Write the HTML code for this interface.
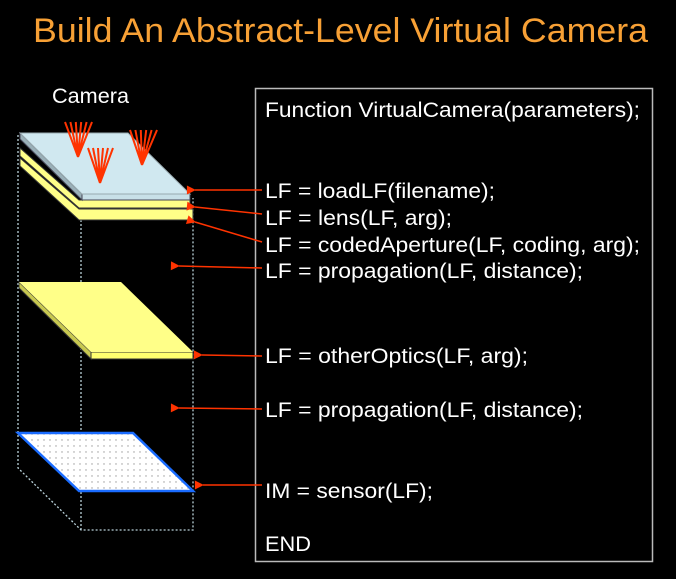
<!DOCTYPE html>
<html><head><meta charset="utf-8"><style>
html,body{margin:0;padding:0;background:#000;}
svg{display:block;}
text{font-family:"Liberation Sans",Arial,sans-serif;}
</style></head><body>
<svg width="676" height="579" viewBox="0 0 676 579" xmlns="http://www.w3.org/2000/svg">
<defs>
<pattern id="dots" width="6" height="6" patternUnits="userSpaceOnUse">
<rect width="6" height="6" fill="#fff"/><circle cx="2" cy="2" r="0.7" fill="#999"/>
</pattern>
<marker id="ah" viewBox="0 0 10 10" refX="1" refY="5" markerWidth="11" markerHeight="9" orient="auto-start-reverse" markerUnits="userSpaceOnUse">
<path d="M10,0 L0,5 L10,10 z" fill="#ff3300"/>
</marker>
</defs>
<rect width="676" height="579" fill="#000"/>
<text x="33" y="42" font-size="34" fill="#f7a035" textLength="615" lengthAdjust="spacingAndGlyphs">Build An Abstract-Level Virtual Camera</text>
<text x="52" y="103" font-size="21" fill="#fff" textLength="77" lengthAdjust="spacingAndGlyphs">Camera</text>

<g stroke="#b8d0d8" stroke-width="1.3" stroke-dasharray="2,2" fill="none">
<path d="M18,135 V468 L81,530 H193 V198"/>
<path d="M81,200 V530"/>
</g>

<polygon points="20,158 79,209 193,209 193,220 79,220 20,166" fill="#ffff88" stroke="#333" stroke-width="1"/>
<polygon points="20,148 79,200 190,200 190,208 79,208 20,156" fill="#ffff88" stroke="#333" stroke-width="1"/>
<polygon points="20,133 82,194 82,200 20,139" fill="#9ab0b8" stroke="#445" stroke-width="1"/>
<polygon points="82,194 190,194 190,200 82,200" fill="#c8e0e8" stroke="#445" stroke-width="1"/>
<polygon points="20,133 128,133 190,194 82,194" fill="#d0e8f0" stroke="#99aab0" stroke-width="1"/>

<g stroke="#ff3300" stroke-width="2">
<path d="M78,157 L65,122 M78,157 L70.4,122 M78,157 L75.8,122 M78,157 L81.2,122 M78,157 L86.6,122 M78,157 L92,122"/>
<path d="M100,183 L88,148 M100,183 L93,148 M100,183 L98,148 M100,183 L103,148 M100,183 L108,148 M100,183 L113,148"/>
<path d="M142,165 L130,130 M142,165 L135.4,130 M142,165 L140.8,130 M142,165 L146.2,130 M142,165 L151.6,130 M142,165 L157,130"/>
</g>

<polygon points="19,282 91,352 91,359 19,288" fill="#c8c850" stroke="#333" stroke-width="1"/>
<polygon points="91,352 193,352 193,359 91,359" fill="#ffff70" stroke="#333" stroke-width="1"/>
<polygon points="19,282 121,282 193,352 91,352" fill="#ffff88"/>

<polygon points="18,433 133,433 193,491 79,491" fill="url(#dots)" stroke="#1a6cff" stroke-width="2.5"/>

<rect x="255.5" y="88.5" width="397" height="473" fill="none" stroke="#bbb" stroke-width="1.5"/>
<g fill="#fff" font-size="21">
<text x="265" y="117" textLength="375" lengthAdjust="spacingAndGlyphs">Function VirtualCamera(parameters);</text>
<text x="265" y="198" textLength="230" lengthAdjust="spacingAndGlyphs">LF = loadLF(filename);</text>
<text x="265" y="225" textLength="187" lengthAdjust="spacingAndGlyphs">LF = lens(LF, arg);</text>
<text x="265" y="252" textLength="375" lengthAdjust="spacingAndGlyphs">LF = codedAperture(LF, coding, arg);</text>
<text x="265" y="278" textLength="318" lengthAdjust="spacingAndGlyphs">LF = propagation(LF, distance);</text>
<text x="265" y="363" textLength="263" lengthAdjust="spacingAndGlyphs">LF = otherOptics(LF, arg);</text>
<text x="265" y="417" textLength="318" lengthAdjust="spacingAndGlyphs">LF = propagation(LF, distance);</text>
<text x="265" y="498" textLength="168" lengthAdjust="spacingAndGlyphs">IM = sensor(LF);</text>
<text x="265" y="551" textLength="46" lengthAdjust="spacingAndGlyphs">END</text>
</g>

<g stroke="#ff3300" stroke-width="1.5" fill="none">
<line x1="262" y1="190" x2="195" y2="190" marker-end="url(#ah)"/>
<line x1="262" y1="214" x2="195" y2="207" marker-end="url(#ah)"/>
<line x1="262" y1="242" x2="195" y2="222" marker-end="url(#ah)"/>
<line x1="262" y1="268" x2="179" y2="266" marker-end="url(#ah)"/>
<line x1="262" y1="356" x2="202" y2="355" marker-end="url(#ah)"/>
<line x1="262" y1="409" x2="179" y2="408" marker-end="url(#ah)"/>
<line x1="262" y1="485" x2="203" y2="485" marker-end="url(#ah)"/>
</g>
</svg>
</body></html>
